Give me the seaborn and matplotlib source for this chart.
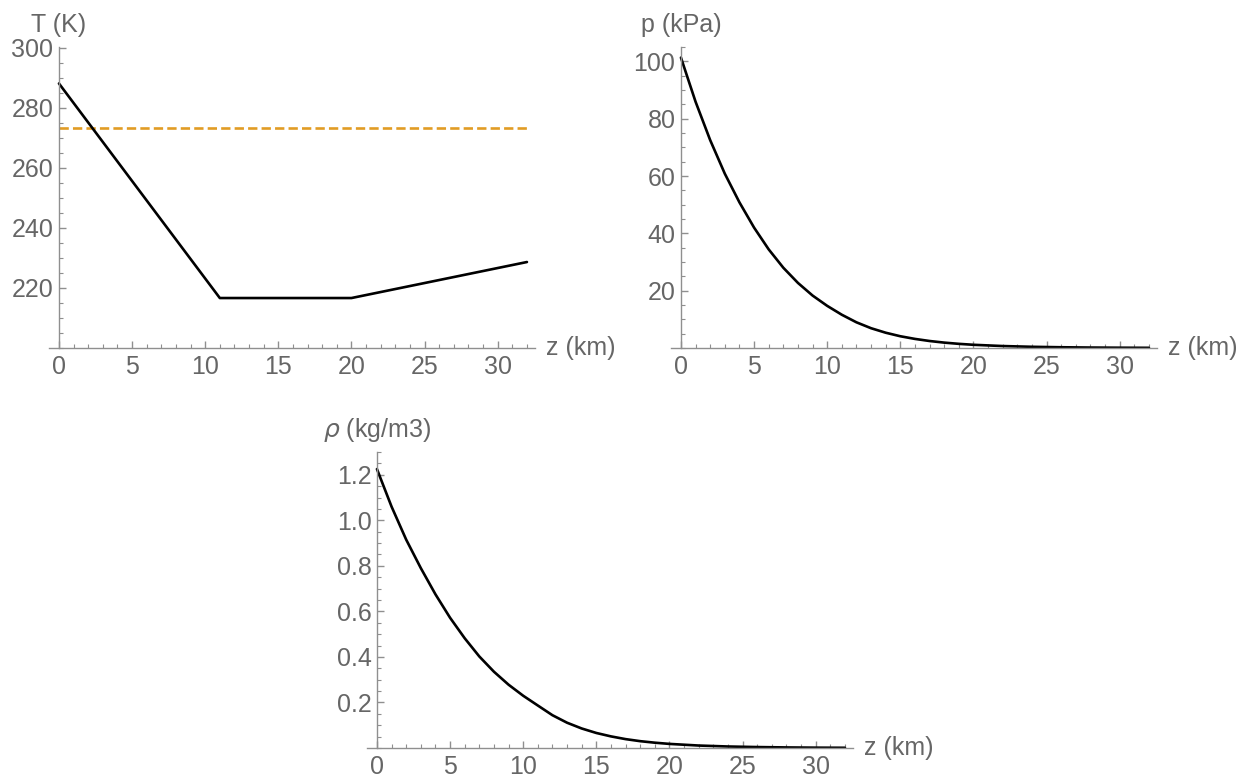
import matplotlib
matplotlib.use("Agg")
import matplotlib.pyplot as plt
import matplotlib.transforms as mtrans
import seaborn as sns
from matplotlib.ticker import MultipleLocator, FixedLocator, FormatStrFormatter

# ---------------- data ----------------
temp_z = [0, 11, 20, 32]
temp_K = [288.15, 216.65, 216.65, 228.65]

freeze_z = [0, 32]
freeze_K = [273.15, 273.15]

alt_z = [0, 1, 2, 3, 4, 5, 6, 7, 8, 9, 10, 11, 12, 13, 14, 15, 16, 17, 18, 19,
         20, 22, 24, 26, 28, 30, 32]
pressure_kPa = [101.3, 85.9, 72.5, 60.8, 50.8, 42.0, 34.4, 28.0, 22.7, 18.3,
                14.7, 11.6, 8.96, 6.9, 5.33, 4.1, 3.17, 2.44, 1.88, 1.45,
                1.12, 0.68, 0.42, 0.26, 0.16, 0.10, 0.063]
density_kgm3 = [1.225, 1.06, 0.915, 0.79, 0.675, 0.572, 0.482, 0.402, 0.335, 0.278,
                0.2295, 0.1866, 0.144, 0.111, 0.0857, 0.066, 0.051, 0.039, 0.030, 0.0233,
                0.018, 0.0108, 0.0066, 0.0041, 0.0025, 0.0015, 0.001]

x_major = [0, 5, 10, 15, 20, 25, 30]

# ---------------- style ----------------
sns.set_theme(style="white")
plt.rcParams['font.family'] = ['Liberation Sans', 'DejaVu Sans']
plt.rcParams['lines.scale_dashes'] = False

AXCOL = '#8f8f8f'
LABCOL = '#666666'
ORANGE = '#E19C24'
FS = 18
LW = 1.9

W, H = 1243, 777
fig = plt.figure(figsize=(W / 100, H / 100), dpi=100)
fig.patch.set_facecolor('white')


def make_axes(left, top, right, bottom):
    return fig.add_axes([left / W, 1 - bottom / H, (right - left) / W, (bottom - top) / H])


def style(ax, ylim, ymajor, yminor, fmt, ylabel):
    ax.set_xlim(-0.68, 32.55)
    ax.set_ylim(*ylim)
    ax.set_facecolor('white')
    ax.grid(False)
    for s in ['top', 'right']:
        ax.spines[s].set_visible(False)
    ax.spines['left'].set_position(('data', 0))
    for s in ['left', 'bottom']:
        ax.spines[s].set_color(AXCOL)
        ax.spines[s].set_linewidth(1.0)
    ax.xaxis.set_major_locator(FixedLocator(x_major))
    ax.xaxis.set_minor_locator(MultipleLocator(1))
    ax.yaxis.set_major_locator(FixedLocator(ymajor))
    ax.yaxis.set_minor_locator(MultipleLocator(yminor))
    ax.yaxis.set_major_formatter(FormatStrFormatter(fmt))
    ax.tick_params(which='both', direction='in', color=AXCOL, labelcolor=LABCOL,
                   labelsize=FS, bottom=True, left=True)
    ax.tick_params(which='major', length=5, width=1.0)
    ax.tick_params(which='minor', length=3, width=0.8)
    ax.tick_params(axis='x', which='major', pad=5)
    ax.tick_params(axis='y', which='major', pad=4)
    ax.set_xlabel('')
    ax.set_ylabel('')
    trans = mtrans.blended_transform_factory(ax.transData, ax.transAxes)
    ax.annotate(ylabel, xy=(0, 1), xycoords=trans, xytext=(0, 16),
                textcoords='offset points', ha='center', va='center',
                fontsize=FS, color=LABCOL)
    ax.annotate('z (km)', xy=(1, 0), xycoords='axes fraction', xytext=(8, 0),
                textcoords='offset points', ha='left', va='center',
                fontsize=FS, color=LABCOL)


# ---- Temperature ----
ax1 = make_axes(49, 47, 535, 348)
sns.lineplot(x=freeze_z, y=freeze_K, ax=ax1, color=ORANGE, linewidth=LW)
ax1.lines[-1].set_linestyle((0, (6.7, 3.0)))
sns.lineplot(x=temp_z, y=temp_K, ax=ax1, color='black', linewidth=LW)
style(ax1, (200, 300.3), [220, 240, 260, 280, 300], 5, '%d', 'T (K)')

# ---- Pressure ----
ax2 = make_axes(671, 47, 1157, 348)
sns.lineplot(x=alt_z, y=pressure_kPa, ax=ax2, color='black', linewidth=LW)
style(ax2, (0, 105), [20, 40, 60, 80, 100], 5, '%d', 'p (kPa)')

# ---- Density ----
ax3 = make_axes(367, 452, 853, 748)
sns.lineplot(x=alt_z, y=density_kgm3, ax=ax3, color='black', linewidth=LW)
style(ax3, (0, 1.3), [0.2, 0.4, 0.6, 0.8, 1.0, 1.2], 0.05, '%.1f', r'$\rho$ (kg/m3)')

fig.savefig('out.png', dpi=100, facecolor='white')
